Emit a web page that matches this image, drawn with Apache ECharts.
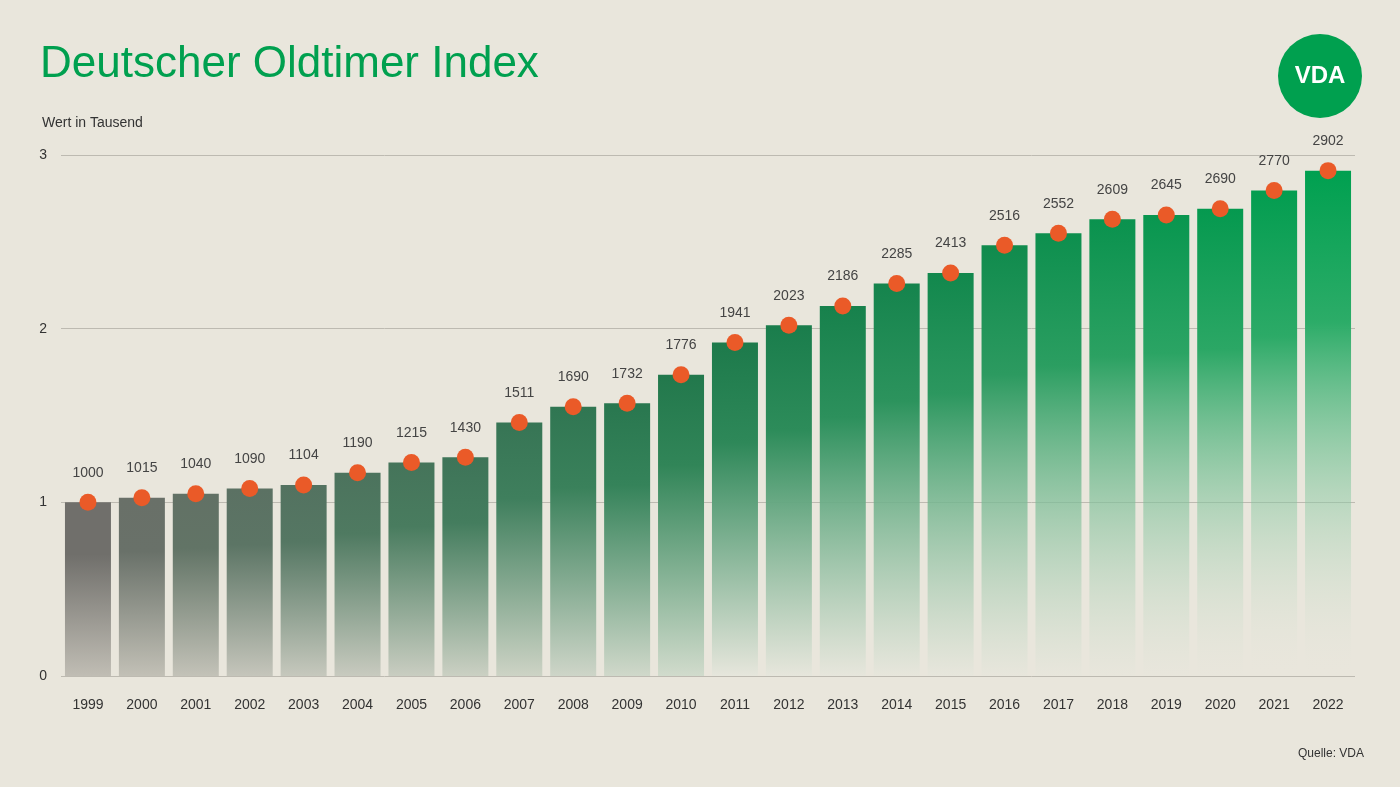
<!DOCTYPE html>
<html><head><meta charset="utf-8">
<script src="https://cdn.jsdelivr.net/npm/echarts@6/dist/echarts.min.js"></script>
<style>html,body{margin:0;padding:0;background:#e9e6dc}#c{width:1400px;height:787px}</style>
</head><body><div id="c"></div>
<script>
const years = ['1999','2000','2001','2002','2003','2004','2005','2006','2007','2008','2009','2010','2011','2012','2013','2014','2015','2016','2017','2018','2019','2020','2021','2022'];
const barValues = [1.0,1.026,1.05,1.08,1.10,1.17,1.23,1.26,1.46,1.55,1.57,1.735,1.92,2.02,2.13,2.26,2.32,2.48,2.55,2.63,2.655,2.69,2.795,2.91];
const indexLabels = [1000,1015,1040,1090,1104,1190,1215,1430,1511,1690,1732,1776,1941,2023,2186,2285,2413,2516,2552,2609,2645,2690,2770,2902];
const yTicks = [0,1,2,3];

function mix(a,b,t){return a.map((v,i)=>Math.round(v+(b[i]-v)*t));}
function rgba(c,a){return `rgba(${c[0]},${c[1]},${c[2]},${a})`;}
const greyTop=[112,111,107], greenMid=[30,120,75], greenTop=[0,160,80];
const greyBot=[192,189,180];
function barColor(i){
  const t=i/(years.length-1);
  let top = t<0.5 ? mix(greyTop,greenMid,t/0.5) : mix(greenMid,greenTop,(t-0.5)/0.5);
  return new echarts.graphic.LinearGradient(0,0,0,1,[
    {offset:0,color:rgba(top,1)},
    {offset:0.3,color:rgba(mix(top,[110,190,140],t*0.4),1)},
    {offset:1,color:rgba(t<0.5?mix(greyBot,[210,220,205],t*2):[230,230,220],t<0.5?1:Math.max(0,1-(t-0.5)*2.2))}
  ]);
}
const FF='"Liberation Sans", Arial, sans-serif';
const chart=echarts.init(document.getElementById('c'));
chart.setOption({
  backgroundColor:'#e9e6dc',
  animation:false,
  textStyle:{fontFamily:FF},
  graphic:[
    {type:'text',left:40,top:43,style:{text:'Deutscher Oldtimer Index',fill:'#00a04f',fontSize:44,fontFamily:FF}},
    {type:'text',left:42,top:116,style:{text:'Wert in Tausend',fill:'#333',fontSize:14,fontFamily:FF}},
    {type:'text',right:36,top:748,style:{text:'Quelle: VDA',fill:'#333',fontSize:12,fontFamily:FF}},
    {type:'circle',shape:{cx:1320,cy:76,r:42},style:{fill:'#00a04f'}},
    {type:'text',x:1320,y:76,style:{text:'VDA',fill:'#fff',fontSize:24,fontWeight:'bold',fontFamily:FF,align:'center',verticalAlign:'middle'}}
  ],
  grid:{left:61,right:45,top:155,bottom:111},
  xAxis:{type:'category',data:years,axisLine:{show:false},axisTick:{show:false},
    axisLabel:{color:'#333',fontSize:14,margin:22,fontFamily:FF}},
  yAxis:{type:'value',min:0,max:3,interval:1,
    axisLabel:{color:'#333',fontSize:14,margin:14,fontFamily:FF,formatter:v=>yTicks.includes(v)?String(v):''},
    splitLine:{lineStyle:{color:'#bdbab1'}}},
  series:[
    {type:'bar',barWidth:46,data:barValues.map((v,i)=>({value:v,itemStyle:{color:barColor(i)}}))},
    {type:'scatter',symbolSize:17,z:5,itemStyle:{color:'#ea5a28',opacity:1},
      data:barValues.map((v,i)=>[i,v]),
      label:{show:true,position:'top',distance:14,color:'#444',fontSize:14,fontFamily:FF,formatter:p=>String(indexLabels[p.dataIndex])}}
  ]
});
</script></body></html>
